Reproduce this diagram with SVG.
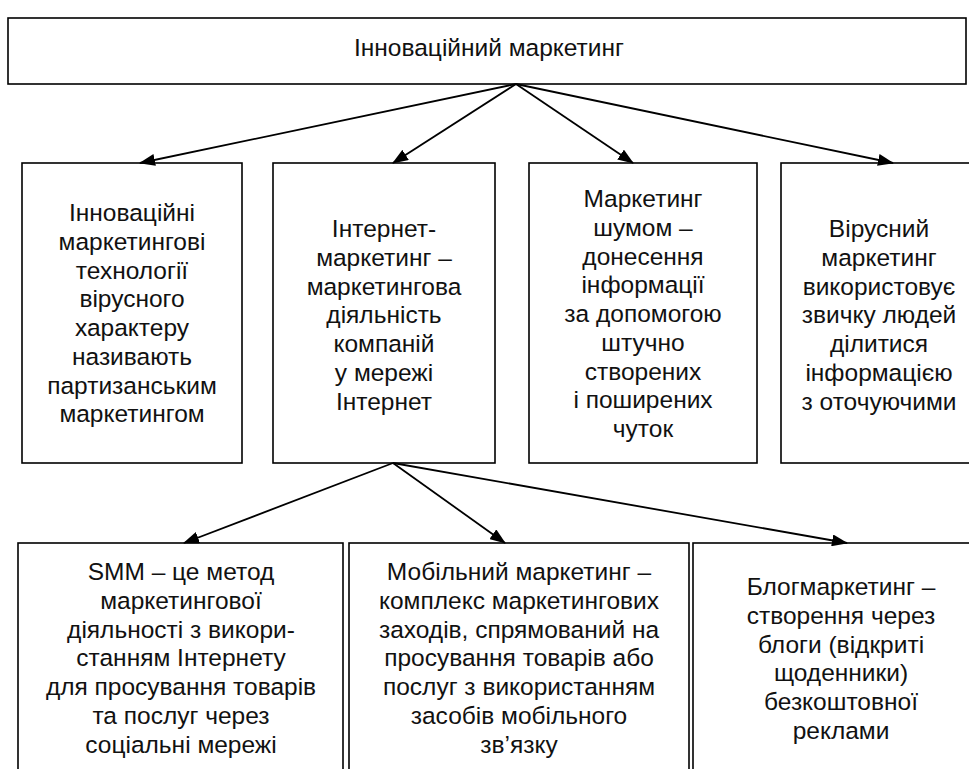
<svg xmlns="http://www.w3.org/2000/svg" width="969" height="769" viewBox="0 0 969 769">
<style>
.box{fill:#fff;stroke:#000;stroke-width:1.6}
.t{font-family:"Liberation Sans",Arial,sans-serif;font-size:24.5px;fill:#111;text-anchor:middle}
.c{stroke:#000;stroke-width:1.8;fill:none;marker-end:url(#ah)}
</style>
<defs>
<marker id="ah" markerUnits="userSpaceOnUse" markerWidth="16" markerHeight="12" refX="15" refY="6" orient="auto">
<path d="M0,0 L16,6 L0,12 Z" fill="#000"/>
</marker>
</defs>
<rect width="969" height="769" fill="#fff"/>
<g id="top">
<rect class="box" x="8" y="18" width="958" height="66"/>
<text class="t" x="489" y="56">Інноваційний маркетинг</text>
</g>
<g id="n1">
<rect class="box" x="22" y="163" width="220" height="300"/>
<text class="t" x="132" y="221">Інноваційні<tspan x="132" dy="28.75">маркетингові</tspan><tspan x="132" dy="28.75">технології</tspan><tspan x="132" dy="28.75">вірусного</tspan><tspan x="132" dy="28.75">характеру</tspan><tspan x="132" dy="28.75">називають</tspan><tspan x="132" dy="28.75">партизанським</tspan><tspan x="132" dy="28.75">маркетингом</tspan></text>
</g>
<g id="n2">
<rect class="box" x="273" y="163" width="222" height="300"/>
<text class="t" x="384" y="237">Інтернет-<tspan x="384" dy="28.75">маркетинг –</tspan><tspan x="384" dy="28.75">маркетингова</tspan><tspan x="384" dy="28.75">діяльність</tspan><tspan x="384" dy="28.75">компаній</tspan><tspan x="384" dy="28.75">у мережі</tspan><tspan x="384" dy="28.75">Інтернет</tspan></text>
</g>
<g id="n3">
<rect class="box" x="529" y="163" width="228" height="300"/>
<text class="t" x="643" y="207">Маркетинг<tspan x="643" dy="28.75">шумом –</tspan><tspan x="643" dy="28.75">донесення</tspan><tspan x="643" dy="28.75">інформації</tspan><tspan x="643" dy="28.75">за допомогою</tspan><tspan x="643" dy="28.75">штучно</tspan><tspan x="643" dy="28.75">створених</tspan><tspan x="643" dy="28.75">і поширених</tspan><tspan x="643" dy="28.75">чуток</tspan></text>
</g>
<g id="n4">
<rect class="box" x="781" y="163" width="196" height="300"/>
<text class="t" x="879" y="237">Вірусний<tspan x="879" dy="28.75">маркетинг</tspan><tspan x="879" dy="28.75">використовує</tspan><tspan x="879" dy="28.75">звичку людей</tspan><tspan x="879" dy="28.75">ділитися</tspan><tspan x="879" dy="28.75">інформацією</tspan><tspan x="879" dy="28.75">з оточуючими</tspan></text>
</g>
<g id="n5">
<rect class="box" x="18" y="543" width="325" height="240"/>
<text class="t" x="181" y="580">SMM – це метод<tspan x="181" dy="28.75">маркетингової</tspan><tspan x="181" dy="28.75">діяльності з викори-</tspan><tspan x="181" dy="28.75">станням Інтернету</tspan><tspan x="181" dy="28.75">для просування товарів</tspan><tspan x="181" dy="28.75">та послуг через</tspan><tspan x="181" dy="28.75">соціальні мережі</tspan></text>
</g>
<g id="n6">
<rect class="box" x="349" y="543" width="340" height="240"/>
<text class="t" x="519" y="580">Мобільний маркетинг –<tspan x="519" dy="28.75">комплекс маркетингових</tspan><tspan x="519" dy="28.75">заходів, спрямований на</tspan><tspan x="519" dy="28.75">просування товарів або</tspan><tspan x="519" dy="28.75">послуг з використанням</tspan><tspan x="519" dy="28.75">засобів мобільного</tspan><tspan x="519" dy="28.75">зв’язку</tspan></text>
</g>
<g id="n7">
<rect class="box" x="693" y="543" width="296" height="240"/>
<text class="t" x="841" y="595">Блогмаркетинг –<tspan x="841" dy="28.75">створення через</tspan><tspan x="841" dy="28.75">блоги (відкриті</tspan><tspan x="841" dy="28.75">щоденники)</tspan><tspan x="841" dy="28.75">безкоштовної</tspan><tspan x="841" dy="28.75">реклами</tspan></text>
</g>
<g id="connectors">
<line class="c" x1="516" y1="84" x2="140" y2="163"/>
<line class="c" x1="516" y1="84" x2="393" y2="163"/>
<line class="c" x1="516" y1="84" x2="633" y2="163"/>
<line class="c" x1="516" y1="84" x2="893" y2="163"/>
<line class="c" x1="393" y1="463" x2="184" y2="543"/>
<line class="c" x1="393" y1="463" x2="505" y2="543"/>
<line class="c" x1="393" y1="463" x2="847" y2="543"/>
</g>
</svg>
